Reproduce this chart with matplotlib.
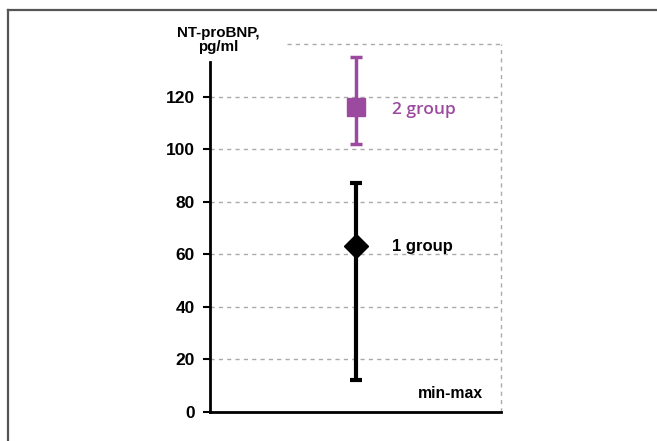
import matplotlib.pyplot as plt
from matplotlib.lines import Line2D

# Group values (NT-proBNP, pg/ml)
groups = ['1 group', '2 group']
means = [63, 116]
mins = [12, 102]
maxs = [87, 135]
colors = ['black', '#9b4a9f']
markers = ['D', 's']

yticks = [0, 20, 40, 60, 80, 100, 120]

plt.rcParams['font.family'] = ['Liberation Sans', 'DejaVu Sans']

fig = plt.figure(figsize=(6.57, 4.41), dpi=100)
ax = fig.add_axes([210 / 657, 1 - 412 / 441, 291 / 657, 368 / 441])

# Frame around the picture (top and left only)
fig.add_artist(Line2D([8 / 657, 8 / 657], [0, 1 - 10 / 441], color='#555555', lw=1.6))
fig.add_artist(Line2D([8 / 657, 1], [1 - 10 / 441, 1 - 10 / 441], color='#555555', lw=1.6))

for i in range(len(groups)):
    lo = means[i] - mins[i]
    hi = maxs[i] - means[i]
    lw = 3 if i == 0 else 2.5
    ax.errorbar(1, means[i], yerr=[[lo], [hi]], fmt=markers[i], color=colors[i],
                ms=12.5 if markers[i] == 'D' else 13, elinewidth=lw, capsize=4.5,
                capthick=lw, zorder=3)

ax.text(1.25, means[0], groups[0], fontsize=12, fontweight='bold', color=colors[0],
        va='center', ha='left')
ax.text(1.25, means[1] - 1, groups[1], fontsize=12.5, fontweight='semibold', color=colors[1],
        va='center', ha='left', family=['Open Sans', 'DejaVu Sans'])
ax.text(1.43, 7, 'min-max', fontsize=11.3, fontweight='bold', va='center', ha='left')

ax.set_xlim(0, 2)
ax.set_ylim(0, 140)
ax.set_yticks(yticks)
ax.set_yticklabels([str(v) for v in yticks], fontsize=12.5, fontweight='bold')
ax.set_xticks([])

for v in yticks[1:]:
    ax.axhline(v, color='#aaaaaa', lw=1, ls=(0, (3, 3)), zorder=1)
ax.axhline(140, xmin=0.265, color='#aaaaaa', lw=1, ls=(0, (3, 3)), zorder=1, clip_on=False)
ax.axvline(2, color='#aaaaaa', lw=1, ls=(0, (3, 3)), zorder=1, clip_on=False)

ax.spines['top'].set_visible(False)
ax.spines['right'].set_visible(False)
ax.spines['left'].set_linewidth(2)
ax.spines['bottom'].set_linewidth(2)
ax.spines['left'].set_bounds(0, 133)
ax.tick_params(axis='y', length=5, width=1.5, pad=6)

fig.text(218 / 657, 1 - 40 / 441, 'NT-proBNP,\npg/ml', ha='center', va='center',
         fontsize=10.9, fontweight='bold', linespacing=1.05)

fig.savefig('out.png', dpi=100)
